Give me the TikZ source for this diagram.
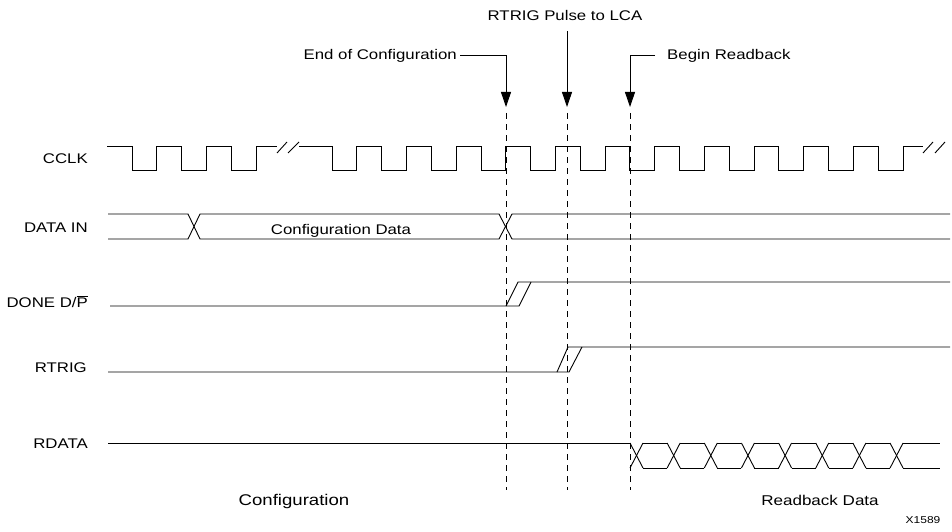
\documentclass[tikz,border=0pt]{standalone}
\usepackage{fontspec}
\setmainfont[FakeStretch=1.2]{Liberation Sans}
\usetikzlibrary{arrows.meta}
\begin{document}
\begin{tikzpicture}[x=1pt,y=-1pt,
  wave/.style={line width=0.9pt, line join=miter},
  marker/.style={line width=0.9pt, dash pattern=on 6pt off 5pt},
  callout/.style={line width=0.9pt, -{Triangle[length=15pt,width=10pt]}},
  txt/.style={inner sep=0pt, font=\fontsize{14}{16}\selectfont, text height=10pt, text depth=0pt},
  siglabel/.style={txt, anchor=east},
  biglabel/.style={inner sep=0pt, text height=10.7pt, text depth=0pt},
]
\useasboundingbox (0,0) rectangle (952,532);

% signal names, right-aligned
\node[siglabel] (lclk)   at (88,158) {CCLK};
\node[siglabel] (ldata)  at (88,227) {DATA IN};
\node[siglabel] (ldone)  at (88,302) {DONE D/\ensuremath{\overline{\mbox{P}}}};
\node[siglabel] (lrtrig) at (87,367) {RTRIG};
\node[siglabel] (lrdata) at (88,443) {RDATA};

% event markers
\coordinate (eoctip) at (506,107);
\coordinate (rtptip) at (567,107);
\coordinate (brbtip) at (630,107);
\foreach \x/\n in {506/eoc, 567/rtp, 630/brb} {
  \coordinate (\n top) at (\x,113);
  \coordinate (\n bot) at (\x,490);
  \draw[marker] (\n top) -- (\n bot);
}

% callouts
\node[txt, anchor=east] (eoct) at (457,55) {End of Configuration};
\node[txt] (rtpt) at (565,16) {RTRIG Pulse to LCA};
\node[txt, anchor=west] (brbt) at (667,55) {Begin Readback};
\draw[callout] ([xshift=3pt]eoct.east) -| (eoctip);
\draw[callout] (rtpt.south -| rtptip) ++(0,10) -- (rtptip);
\draw[callout] ([xshift=-12pt]brbt.west) -| (brbtip);

% CCLK
\draw[wave] (107,146)
  foreach \k in {0,1,2} { -- ({132+49.65*\k},146) -- ++(0,24) -- ++(24.8,0) -- ++(0,-24) }
  -- (277,146);
\draw[wave] (277,153) -- (287,142);
\draw[wave] (288,153) -- (299,142);
\draw[wave] (299,146)
  foreach \k in {0,...,11} { -- ({332+49.65*\k},146) -- ++(0,24) -- ++(24.8,0) -- ++(0,-24) }
  -- (923,146);
\draw[wave] (923,153) -- (933,142);
\draw[wave] (935,153) -- (945,142);

% DATA IN
\draw[wave] (108,214) -- (188,214) -- (200,239) -- (499,239) -- (512,214) -- (950,214);
\draw[wave] (108,239) -- (188,239) -- (200,214) -- (499,214) -- (512,239) -- (950,239);
\node[txt] (cfgdata) at (341,229) {Configuration Data};

% DONE
\draw[wave] (110,306) -- (519,306) -- (531,282);
\draw[wave] (506,306) -- (518,282) -- (950,282);

% RTRIG
\draw[wave] (108,372) -- (569,372) -- (582,347);
\draw[wave] (557,372) -- (568,347) -- (950,347);

% RDATA
\draw[wave] (108,443) -- (630,443);
\foreach \i in {0,...,7} {
  \pgfmathsetmacro\c{636.5+37.15*\i}
  \draw[wave] (\c-6.5,443) -- (\c+6.5,468);
  \draw[wave] (\c-6.5,468) -- (\c+6.5,443);
}
\foreach \i in {0,...,6} {
  \pgfmathsetmacro\a{636.5+37.15*\i+6.5}
  \pgfmathsetmacro\b{636.5+37.15*(\i+1)-6.5}
  \draw[wave] (\a,443) -- (\b,443);
  \draw[wave] (\a,468) -- (\b,468);
}
\draw[wave] ({636.5+37.15*7+6.5},443) -- (940,443);
\draw[wave] ({636.5+37.15*7+6.5},468) -- (940,468);

% phase names
\node[biglabel, font=\fontsize{15.5}{18}\selectfont] (phcfg) at (294,500) {Configuration};
\node[biglabel, font=\fontsize{14.2}{17}\selectfont] (phrb)  at (820,500) {Readback Data};
\node[inner sep=0pt, font=\fontsize{10}{12}\selectfont] (fig) at (923,520) {X1589};
\end{tikzpicture}
\end{document}
